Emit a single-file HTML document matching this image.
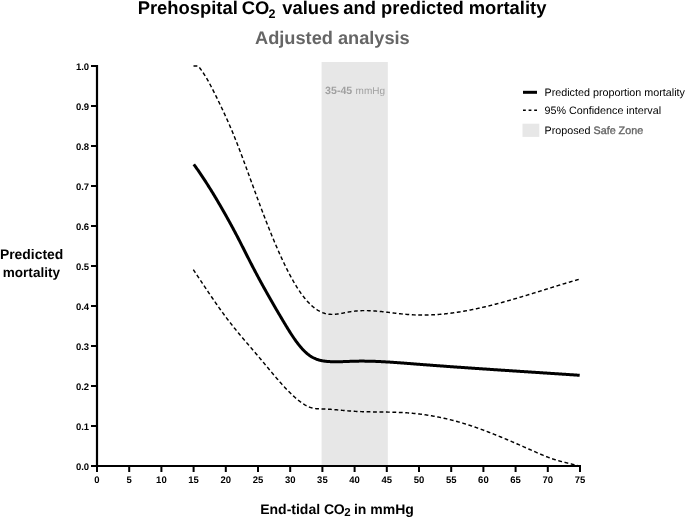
<!DOCTYPE html><html><head><meta charset="utf-8"><style>html,body{margin:0;padding:0;background:#fff;}svg{display:block;will-change:transform;}text{font-family:"Liberation Sans",sans-serif;text-rendering:geometricPrecision;}</style></head><body>
<svg width="685" height="518" viewBox="0 0 685 518">
<rect x="0" y="0" width="685" height="518" fill="#fff"/>
<g font-size="18.4" font-weight="bold" fill="#000"><text x="137.67" y="14">Prehospital</text><text x="241.65" y="14">CO</text><text x="268.4" y="18.3" font-size="12.5">2</text><text x="282.2" y="14">values</text><text x="343.26" y="14">and</text><text x="381.09" y="14">predicted</text><text x="468.69" y="14">mortality</text></g>
<text x="255.05" y="44.2" font-size="18.2" font-weight="bold" fill="#666">Adjusted analysis</text>
<rect x="321.6" y="62" width="66.2" height="404" fill="#e7e7e7"/>
<text x="325.1" y="94.4" font-size="10.6" font-weight="bold" fill="#a0a0a0">35-45</text><text x="355.6" y="94.4" font-size="10" fill="#a0a0a0">mmHg</text>
<path d="M193.50,66.00 L194.00,66.00 L194.50,66.00 L195.00,66.00 L195.50,66.00 L196.00,66.00 L196.50,66.00 L197.00,66.00 L197.50,66.00 L198.00,66.00 L198.50,66.41 L199.00,67.02 L199.50,67.64 L200.00,68.28 L200.50,68.94 L201.00,69.61 L201.50,70.31 L202.00,71.02 L202.50,71.74 L203.00,72.49 L203.50,73.25 L204.00,74.02 L204.50,74.81 L205.00,75.62 L205.50,76.43 L206.00,77.27 L206.50,78.11 L207.00,78.97 L207.50,79.84 L208.00,80.72 L208.50,81.61 L209.00,82.51 L209.50,83.43 L210.00,84.35 L210.50,85.28 L211.00,86.23 L211.50,87.18 L212.00,88.14 L212.50,89.11 L213.00,90.08 L213.50,91.07 L214.00,92.06 L214.50,93.06 L215.00,94.06 L215.50,95.07 L216.00,96.08 L216.50,97.10 L217.00,98.13 L217.50,99.16 L218.00,100.19 L218.50,101.23 L219.00,102.27 L219.50,103.31 L220.00,104.35 L220.50,105.40 L221.00,106.45 L221.50,107.50 L222.00,108.56 L222.50,109.62 L223.00,110.69 L223.50,111.76 L224.00,112.83 L224.50,113.91 L225.00,114.99 L225.50,116.09 L226.00,117.18 L226.50,118.28 L227.00,119.39 L227.50,120.51 L228.00,121.63 L228.50,122.76 L229.00,123.89 L229.50,125.04 L230.00,126.19 L230.50,127.35 L231.00,128.52 L231.50,129.69 L232.00,130.88 L232.50,132.07 L233.00,133.28 L233.50,134.49 L234.00,135.71 L234.50,136.95 L235.00,138.19 L235.50,139.43 L236.00,140.69 L236.50,141.95 L237.00,143.22 L237.50,144.50 L238.00,145.79 L238.50,147.08 L239.00,148.38 L239.50,149.68 L240.00,150.99 L240.50,152.31 L241.00,153.63 L241.50,154.95 L242.00,156.29 L242.50,157.62 L243.00,158.96 L243.50,160.30 L244.00,161.65 L244.50,163.00 L245.00,164.36 L245.50,165.71 L246.00,167.07 L246.50,168.44 L247.00,169.80 L247.50,171.17 L248.00,172.53 L248.50,173.90 L249.00,175.27 L249.50,176.64 L250.00,178.02 L250.50,179.39 L251.00,180.76 L251.50,182.13 L252.00,183.50 L252.50,184.87 L253.00,186.24 L253.50,187.61 L254.00,188.98 L254.50,190.35 L255.00,191.71 L255.50,193.07 L256.00,194.43 L256.50,195.78 L257.00,197.14 L257.50,198.49 L258.00,199.83 L258.50,201.18 L259.00,202.52 L259.50,203.86 L260.00,205.19 L260.50,206.52 L261.00,207.85 L261.50,209.17 L262.00,210.49 L262.50,211.81 L263.00,213.12 L263.50,214.43 L264.00,215.73 L264.50,217.03 L265.00,218.32 L265.50,219.61 L266.00,220.90 L266.50,222.18 L267.00,223.45 L267.50,224.73 L268.00,225.99 L268.50,227.25 L269.00,228.51 L269.50,229.76 L270.00,231.00 L270.50,232.24 L271.00,233.48 L271.50,234.70 L272.00,235.92 L272.50,237.14 L273.00,238.35 L273.50,239.55 L274.00,240.75 L274.50,241.94 L275.00,243.13 L275.50,244.31 L276.00,245.48 L276.50,246.64 L277.00,247.80 L277.50,248.95 L278.00,250.09 L278.50,251.23 L279.00,252.36 L279.50,253.48 L280.00,254.60 L280.50,255.70 L281.00,256.80 L281.50,257.90 L282.00,258.98 L282.50,260.05 L283.00,261.12 L283.50,262.18 L284.00,263.23 L284.50,264.27 L285.00,265.31 L285.50,266.33 L286.00,267.35 L286.50,268.36 L287.00,269.36 L287.50,270.35 L288.00,271.33 L288.50,272.30 L289.00,273.26 L289.50,274.22 L290.00,275.16 L290.50,276.09 L291.00,277.02 L291.50,277.93 L292.00,278.84 L292.50,279.73 L293.00,280.62 L293.50,281.49 L294.00,282.35 L294.50,283.21 L295.00,284.05 L295.50,284.88 L296.00,285.70 L296.50,286.51 L297.00,287.31 L297.50,288.10 L298.00,288.88 L298.50,289.65 L299.00,290.40 L299.50,291.14 L300.00,291.88 L300.50,292.60 L301.00,293.30 L301.50,294.00 L302.00,294.69 L302.50,295.36 L303.00,296.02 L303.50,296.67 L304.00,297.31 L304.50,297.93 L305.00,298.54 L305.50,299.15 L306.00,299.74 L306.50,300.31 L307.00,300.88 L307.50,301.44 L308.00,301.98 L308.50,302.51 L309.00,303.03 L309.50,303.54 L310.00,304.03 L310.50,304.52 L311.00,304.99 L311.50,305.45 L312.00,305.90 L312.50,306.33 L313.00,306.76 L313.50,307.17 L314.00,307.57 L314.50,307.96 L315.00,308.34 L315.50,308.71 L316.00,309.06 L316.50,309.41 L317.00,309.74 L317.50,310.06 L318.00,310.37 L318.50,310.66 L319.00,310.95 L319.50,311.22 L320.00,311.48 L320.50,311.73 L321.00,311.97 L321.50,312.20 L322.00,312.41 L322.50,312.62 L323.00,312.81 L323.50,312.99 L324.00,313.16 L324.50,313.31 L325.00,313.46 L325.50,313.59 L326.00,313.71 L326.50,313.82 L327.00,313.92 L327.50,314.01 L328.00,314.09 L328.50,314.16 L329.00,314.22 L329.50,314.27 L330.00,314.31 L330.50,314.34 L331.00,314.37 L331.50,314.38 L332.00,314.39 L332.50,314.39 L333.00,314.38 L333.50,314.36 L334.00,314.34 L334.50,314.31 L335.00,314.28 L335.50,314.24 L336.00,314.19 L336.50,314.14 L337.00,314.08 L337.50,314.02 L338.00,313.95 L338.50,313.88 L339.00,313.81 L339.50,313.73 L340.00,313.65 L340.50,313.56 L341.00,313.47 L341.50,313.39 L342.00,313.29 L342.50,313.20 L343.00,313.11 L343.50,313.01 L344.00,312.91 L344.50,312.81 L345.00,312.72 L345.50,312.62 L346.00,312.52 L346.50,312.42 L347.00,312.32 L347.50,312.23 L348.00,312.13 L348.50,312.04 L349.00,311.95 L349.50,311.86 L350.00,311.78 L350.50,311.69 L351.00,311.61 L351.50,311.54 L352.00,311.47 L352.50,311.40 L353.00,311.33 L353.50,311.27 L354.00,311.21 L354.50,311.15 L355.00,311.10 L355.50,311.04 L356.00,311.00 L356.50,310.95 L357.00,310.91 L357.50,310.87 L358.00,310.84 L358.50,310.80 L359.00,310.77 L359.50,310.74 L360.00,310.72 L360.50,310.70 L361.00,310.68 L361.50,310.66 L362.00,310.64 L362.50,310.63 L363.00,310.62 L363.50,310.61 L364.00,310.61 L364.50,310.61 L365.00,310.61 L365.50,310.61 L366.00,310.61 L366.50,310.62 L367.00,310.63 L367.50,310.64 L368.00,310.65 L368.50,310.66 L369.00,310.68 L369.50,310.70 L370.00,310.72 L370.50,310.74 L371.00,310.76 L371.50,310.79 L372.00,310.81 L372.50,310.84 L373.00,310.87 L373.50,310.90 L374.00,310.94 L374.50,310.97 L375.00,311.01 L375.50,311.05 L376.00,311.09 L376.50,311.13 L377.00,311.17 L377.50,311.21 L378.00,311.25 L378.50,311.30 L379.00,311.34 L379.50,311.39 L380.00,311.44 L380.50,311.49 L381.00,311.54 L381.50,311.59 L382.00,311.64 L382.50,311.70 L383.00,311.75 L383.50,311.80 L384.00,311.86 L384.50,311.91 L385.00,311.97 L385.50,312.03 L386.00,312.09 L386.50,312.14 L387.00,312.20 L387.50,312.26 L388.00,312.32 L388.50,312.38 L389.00,312.44 L389.50,312.50 L390.00,312.56 L390.50,312.62 L391.00,312.68 L391.50,312.74 L392.00,312.80 L392.50,312.86 L393.00,312.92 L393.50,312.98 L394.00,313.04 L394.50,313.10 L395.00,313.16 L395.50,313.22 L396.00,313.28 L396.50,313.34 L397.00,313.40 L397.50,313.46 L398.00,313.51 L398.50,313.57 L399.00,313.63 L399.50,313.68 L400.00,313.74 L400.50,313.79 L401.00,313.85 L401.50,313.90 L402.00,313.95 L402.50,314.01 L403.00,314.06 L403.50,314.11 L404.00,314.16 L404.50,314.20 L405.00,314.25 L405.50,314.30 L406.00,314.34 L406.50,314.38 L407.00,314.43 L407.50,314.47 L408.00,314.51 L408.50,314.55 L409.00,314.58 L409.50,314.62 L410.00,314.65 L410.50,314.69 L411.00,314.72 L411.50,314.75 L412.00,314.78 L412.50,314.80 L413.00,314.83 L413.50,314.85 L414.00,314.88 L414.50,314.90 L415.00,314.92 L415.50,314.94 L416.00,314.96 L416.50,314.97 L417.00,314.99 L417.50,315.00 L418.00,315.01 L418.50,315.02 L419.00,315.03 L419.50,315.04 L420.00,315.05 L420.50,315.06 L421.00,315.06 L421.50,315.06 L422.00,315.06 L422.50,315.07 L423.00,315.06 L423.50,315.06 L424.00,315.06 L424.50,315.06 L425.00,315.05 L425.50,315.04 L426.00,315.03 L426.50,315.03 L427.00,315.01 L427.50,315.00 L428.00,314.99 L428.50,314.98 L429.00,314.96 L429.50,314.94 L430.00,314.93 L430.50,314.91 L431.00,314.89 L431.50,314.86 L432.00,314.84 L432.50,314.82 L433.00,314.79 L433.50,314.77 L434.00,314.74 L434.50,314.71 L435.00,314.68 L435.50,314.65 L436.00,314.62 L436.50,314.59 L437.00,314.55 L437.50,314.52 L438.00,314.48 L438.50,314.44 L439.00,314.40 L439.50,314.36 L440.00,314.32 L440.50,314.28 L441.00,314.24 L441.50,314.19 L442.00,314.15 L442.50,314.10 L443.00,314.05 L443.50,314.01 L444.00,313.96 L444.50,313.91 L445.00,313.85 L445.50,313.80 L446.00,313.75 L446.50,313.69 L447.00,313.64 L447.50,313.58 L448.00,313.52 L448.50,313.46 L449.00,313.41 L449.50,313.34 L450.00,313.28 L450.50,313.22 L451.00,313.16 L451.50,313.09 L452.00,313.03 L452.50,312.96 L453.00,312.89 L453.50,312.82 L454.00,312.75 L454.50,312.68 L455.00,312.61 L455.50,312.54 L456.00,312.47 L456.50,312.39 L457.00,312.32 L457.50,312.24 L458.00,312.16 L458.50,312.09 L459.00,312.01 L459.50,311.93 L460.00,311.85 L460.50,311.77 L461.00,311.68 L461.50,311.60 L462.00,311.52 L462.50,311.43 L463.00,311.35 L463.50,311.26 L464.00,311.17 L464.50,311.08 L465.00,311.00 L465.50,310.91 L466.00,310.82 L466.50,310.72 L467.00,310.63 L467.50,310.54 L468.00,310.44 L468.50,310.35 L469.00,310.25 L469.50,310.16 L470.00,310.06 L470.50,309.96 L471.00,309.86 L471.50,309.76 L472.00,309.66 L472.50,309.56 L473.00,309.46 L473.50,309.36 L474.00,309.26 L474.50,309.15 L475.00,309.05 L475.50,308.94 L476.00,308.84 L476.50,308.73 L477.00,308.62 L477.50,308.51 L478.00,308.40 L478.50,308.29 L479.00,308.18 L479.50,308.07 L480.00,307.96 L480.50,307.85 L481.00,307.74 L481.50,307.62 L482.00,307.51 L482.50,307.39 L483.00,307.28 L483.50,307.16 L484.00,307.04 L484.50,306.93 L485.00,306.81 L485.50,306.69 L486.00,306.57 L486.50,306.45 L487.00,306.33 L487.50,306.21 L488.00,306.08 L488.50,305.96 L489.00,305.84 L489.50,305.72 L490.00,305.59 L490.50,305.47 L491.00,305.34 L491.50,305.22 L492.00,305.09 L492.50,304.96 L493.00,304.83 L493.50,304.71 L494.00,304.58 L494.50,304.45 L495.00,304.32 L495.50,304.19 L496.00,304.06 L496.50,303.93 L497.00,303.80 L497.50,303.66 L498.00,303.53 L498.50,303.40 L499.00,303.26 L499.50,303.13 L500.00,302.99 L500.50,302.86 L501.00,302.72 L501.50,302.59 L502.00,302.45 L502.50,302.31 L503.00,302.18 L503.50,302.04 L504.00,301.90 L504.50,301.76 L505.00,301.62 L505.50,301.48 L506.00,301.34 L506.50,301.20 L507.00,301.06 L507.50,300.92 L508.00,300.78 L508.50,300.64 L509.00,300.50 L509.50,300.35 L510.00,300.21 L510.50,300.07 L511.00,299.92 L511.50,299.78 L512.00,299.64 L512.50,299.49 L513.00,299.35 L513.50,299.20 L514.00,299.06 L514.50,298.91 L515.00,298.76 L515.50,298.62 L516.00,298.47 L516.50,298.32 L517.00,298.17 L517.50,298.03 L518.00,297.88 L518.50,297.73 L519.00,297.58 L519.50,297.43 L520.00,297.28 L520.50,297.13 L521.00,296.98 L521.50,296.84 L522.00,296.68 L522.50,296.53 L523.00,296.38 L523.50,296.23 L524.00,296.08 L524.50,295.93 L525.00,295.78 L525.50,295.63 L526.00,295.48 L526.50,295.32 L527.00,295.17 L527.50,295.02 L528.00,294.87 L528.50,294.71 L529.00,294.56 L529.50,294.41 L530.00,294.25 L530.50,294.10 L531.00,293.95 L531.50,293.79 L532.00,293.64 L532.50,293.49 L533.00,293.33 L533.50,293.18 L534.00,293.02 L534.50,292.87 L535.00,292.71 L535.50,292.56 L536.00,292.40 L536.50,292.25 L537.00,292.09 L537.50,291.94 L538.00,291.78 L538.50,291.63 L539.00,291.47 L539.50,291.32 L540.00,291.16 L540.50,291.01 L541.00,290.85 L541.50,290.70 L542.00,290.54 L542.50,290.39 L543.00,290.23 L543.50,290.07 L544.00,289.92 L544.50,289.76 L545.00,289.61 L545.50,289.45 L546.00,289.30 L546.50,289.14 L547.00,288.99 L547.50,288.83 L548.00,288.67 L548.50,288.52 L549.00,288.36 L549.50,288.21 L550.00,288.05 L550.50,287.90 L551.00,287.74 L551.50,287.59 L552.00,287.43 L552.50,287.28 L553.00,287.12 L553.50,286.97 L554.00,286.81 L554.50,286.66 L555.00,286.50 L555.50,286.35 L556.00,286.20 L556.50,286.04 L557.00,285.89 L557.50,285.73 L558.00,285.58 L558.50,285.43 L559.00,285.27 L559.50,285.12 L560.00,284.97 L560.50,284.81 L561.00,284.66 L561.50,284.51 L562.00,284.36 L562.50,284.20 L563.00,284.05 L563.50,283.90 L564.00,283.75 L564.50,283.60 L565.00,283.44 L565.50,283.29 L566.00,283.14 L566.50,282.99 L567.00,282.84 L567.50,282.69 L568.00,282.54 L568.50,282.39 L569.00,282.24 L569.50,282.09 L570.00,281.94 L570.50,281.80 L571.00,281.65 L571.50,281.50 L572.00,281.35 L572.50,281.20 L573.00,281.06 L573.50,280.91 L574.00,280.76 L574.50,280.62 L575.00,280.47 L575.50,280.32 L576.00,280.18 L576.50,280.03 L577.00,279.89 L577.50,279.74 L578.00,279.60 L578.50,279.46 L579.00,279.31 L579.50,279.17" fill="none" stroke="#000" stroke-width="1.45" stroke-dasharray="3.85 2.6"/>
<path d="M193.30,269.53 L193.80,270.28 L194.30,271.03 L194.80,271.78 L195.30,272.54 L195.80,273.29 L196.30,274.04 L196.80,274.80 L197.30,275.55 L197.80,276.30 L198.30,277.06 L198.80,277.81 L199.30,278.57 L199.80,279.32 L200.30,280.07 L200.80,280.83 L201.30,281.58 L201.80,282.33 L202.30,283.09 L202.80,283.84 L203.30,284.59 L203.80,285.34 L204.30,286.09 L204.80,286.84 L205.30,287.59 L205.80,288.34 L206.30,289.09 L206.80,289.84 L207.30,290.58 L207.80,291.33 L208.30,292.07 L208.80,292.81 L209.30,293.55 L209.80,294.30 L210.30,295.03 L210.80,295.77 L211.30,296.51 L211.80,297.24 L212.30,297.98 L212.80,298.71 L213.30,299.44 L213.80,300.17 L214.30,300.89 L214.80,301.62 L215.30,302.34 L215.80,303.06 L216.30,303.78 L216.80,304.50 L217.30,305.22 L217.80,305.93 L218.30,306.64 L218.80,307.35 L219.30,308.05 L219.80,308.76 L220.30,309.46 L220.80,310.16 L221.30,310.85 L221.80,311.55 L222.30,312.24 L222.80,312.93 L223.30,313.61 L223.80,314.29 L224.30,314.97 L224.80,315.65 L225.30,316.32 L225.80,316.99 L226.30,317.66 L226.80,318.32 L227.30,318.98 L227.80,319.64 L228.30,320.30 L228.80,320.95 L229.30,321.60 L229.80,322.24 L230.30,322.88 L230.80,323.52 L231.30,324.16 L231.80,324.79 L232.30,325.42 L232.80,326.05 L233.30,326.68 L233.80,327.30 L234.30,327.92 L234.80,328.54 L235.30,329.16 L235.80,329.77 L236.30,330.39 L236.80,331.00 L237.30,331.61 L237.80,332.21 L238.30,332.82 L238.80,333.42 L239.30,334.02 L239.80,334.62 L240.30,335.22 L240.80,335.82 L241.30,336.42 L241.80,337.01 L242.30,337.60 L242.80,338.20 L243.30,338.79 L243.80,339.38 L244.30,339.97 L244.80,340.55 L245.30,341.14 L245.80,341.73 L246.30,342.31 L246.80,342.90 L247.30,343.48 L247.80,344.07 L248.30,344.65 L248.80,345.24 L249.30,345.82 L249.80,346.40 L250.30,346.98 L250.80,347.57 L251.30,348.15 L251.80,348.73 L252.30,349.32 L252.80,349.90 L253.30,350.48 L253.80,351.07 L254.30,351.65 L254.80,352.24 L255.30,352.82 L255.80,353.41 L256.30,353.99 L256.80,354.58 L257.30,355.17 L257.80,355.76 L258.30,356.35 L258.80,356.94 L259.30,357.53 L259.80,358.13 L260.30,358.72 L260.80,359.32 L261.30,359.91 L261.80,360.51 L262.30,361.11 L262.80,361.71 L263.30,362.31 L263.80,362.91 L264.30,363.51 L264.80,364.12 L265.30,364.72 L265.80,365.32 L266.30,365.92 L266.80,366.53 L267.30,367.13 L267.80,367.73 L268.30,368.33 L268.80,368.94 L269.30,369.54 L269.80,370.14 L270.30,370.74 L270.80,371.34 L271.30,371.94 L271.80,372.53 L272.30,373.13 L272.80,373.72 L273.30,374.32 L273.80,374.91 L274.30,375.50 L274.80,376.09 L275.30,376.68 L275.80,377.26 L276.30,377.85 L276.80,378.43 L277.30,379.01 L277.80,379.59 L278.30,380.16 L278.80,380.74 L279.30,381.31 L279.80,381.88 L280.30,382.44 L280.80,383.01 L281.30,383.57 L281.80,384.12 L282.30,384.68 L282.80,385.23 L283.30,385.77 L283.80,386.32 L284.30,386.86 L284.80,387.40 L285.30,387.93 L285.80,388.46 L286.30,388.99 L286.80,389.51 L287.30,390.03 L287.80,390.54 L288.30,391.05 L288.80,391.56 L289.30,392.06 L289.80,392.55 L290.30,393.05 L290.80,393.53 L291.30,394.01 L291.80,394.49 L292.30,394.96 L292.80,395.43 L293.30,395.89 L293.80,396.35 L294.30,396.80 L294.80,397.25 L295.30,397.69 L295.80,398.12 L296.30,398.55 L296.80,398.97 L297.30,399.39 L297.80,399.80 L298.30,400.20 L298.80,400.60 L299.30,400.99 L299.80,401.38 L300.30,401.76 L300.80,402.13 L301.30,402.49 L301.80,402.85 L302.30,403.20 L302.80,403.54 L303.30,403.87 L303.80,404.19 L304.30,404.50 L304.80,404.81 L305.30,405.10 L305.80,405.38 L306.30,405.66 L306.80,405.92 L307.30,406.17 L307.80,406.41 L308.30,406.64 L308.80,406.86 L309.30,407.06 L309.80,407.26 L310.30,407.43 L310.80,407.60 L311.30,407.75 L311.80,407.89 L312.30,408.02 L312.80,408.14 L313.30,408.24 L313.80,408.34 L314.30,408.42 L314.80,408.50 L315.30,408.57 L315.80,408.62 L316.30,408.68 L316.80,408.72 L317.30,408.76 L317.80,408.79 L318.30,408.82 L318.80,408.84 L319.30,408.86 L319.80,408.88 L320.30,408.89 L320.80,408.91 L321.30,408.92 L321.80,408.93 L322.30,408.94 L322.80,408.95 L323.30,408.96 L323.80,408.97 L324.30,408.99 L324.80,409.00 L325.30,409.02 L325.80,409.04 L326.30,409.07 L326.80,409.09 L327.30,409.12 L327.80,409.14 L328.30,409.17 L328.80,409.20 L329.30,409.23 L329.80,409.27 L330.30,409.30 L330.80,409.34 L331.30,409.37 L331.80,409.41 L332.30,409.45 L332.80,409.49 L333.30,409.53 L333.80,409.57 L334.30,409.62 L334.80,409.66 L335.30,409.70 L335.80,409.75 L336.30,409.79 L336.80,409.84 L337.30,409.88 L337.80,409.93 L338.30,409.98 L338.80,410.02 L339.30,410.07 L339.80,410.12 L340.30,410.17 L340.80,410.21 L341.30,410.26 L341.80,410.31 L342.30,410.36 L342.80,410.40 L343.30,410.45 L343.80,410.50 L344.30,410.54 L344.80,410.59 L345.30,410.63 L345.80,410.68 L346.30,410.72 L346.80,410.77 L347.30,410.81 L347.80,410.85 L348.30,410.89 L348.80,410.93 L349.30,410.97 L349.80,411.01 L350.30,411.04 L350.80,411.08 L351.30,411.11 L351.80,411.15 L352.30,411.18 L352.80,411.21 L353.30,411.24 L353.80,411.27 L354.30,411.30 L354.80,411.33 L355.30,411.36 L355.80,411.38 L356.30,411.41 L356.80,411.43 L357.30,411.46 L357.80,411.48 L358.30,411.50 L358.80,411.52 L359.30,411.55 L359.80,411.57 L360.30,411.59 L360.80,411.60 L361.30,411.62 L361.80,411.64 L362.30,411.66 L362.80,411.67 L363.30,411.69 L363.80,411.70 L364.30,411.72 L364.80,411.73 L365.30,411.74 L365.80,411.76 L366.30,411.77 L366.80,411.78 L367.30,411.79 L367.80,411.80 L368.30,411.81 L368.80,411.83 L369.30,411.84 L369.80,411.84 L370.30,411.85 L370.80,411.86 L371.30,411.87 L371.80,411.88 L372.30,411.89 L372.80,411.90 L373.30,411.90 L373.80,411.91 L374.30,411.92 L374.80,411.92 L375.30,411.93 L375.80,411.94 L376.30,411.94 L376.80,411.95 L377.30,411.96 L377.80,411.96 L378.30,411.97 L378.80,411.98 L379.30,411.98 L379.80,411.99 L380.30,411.99 L380.80,412.00 L381.30,412.01 L381.80,412.01 L382.30,412.02 L382.80,412.03 L383.30,412.03 L383.80,412.04 L384.30,412.05 L384.80,412.05 L385.30,412.06 L385.80,412.07 L386.30,412.08 L386.80,412.09 L387.30,412.09 L387.80,412.10 L388.30,412.11 L388.80,412.12 L389.30,412.13 L389.80,412.14 L390.30,412.15 L390.80,412.16 L391.30,412.17 L391.80,412.19 L392.30,412.20 L392.80,412.21 L393.30,412.22 L393.80,412.24 L394.30,412.25 L394.80,412.27 L395.30,412.28 L395.80,412.30 L396.30,412.32 L396.80,412.33 L397.30,412.35 L397.80,412.37 L398.30,412.39 L398.80,412.41 L399.30,412.43 L399.80,412.45 L400.30,412.47 L400.80,412.49 L401.30,412.52 L401.80,412.54 L402.30,412.57 L402.80,412.59 L403.30,412.62 L403.80,412.65 L404.30,412.68 L404.80,412.71 L405.30,412.74 L405.80,412.77 L406.30,412.80 L406.80,412.83 L407.30,412.87 L407.80,412.90 L408.30,412.94 L408.80,412.98 L409.30,413.02 L409.80,413.06 L410.30,413.10 L410.80,413.14 L411.30,413.18 L411.80,413.23 L412.30,413.27 L412.80,413.32 L413.30,413.36 L413.80,413.41 L414.30,413.46 L414.80,413.51 L415.30,413.56 L415.80,413.61 L416.30,413.67 L416.80,413.72 L417.30,413.78 L417.80,413.83 L418.30,413.89 L418.80,413.95 L419.30,414.01 L419.80,414.07 L420.30,414.13 L420.80,414.19 L421.30,414.25 L421.80,414.32 L422.30,414.38 L422.80,414.45 L423.30,414.52 L423.80,414.59 L424.30,414.66 L424.80,414.73 L425.30,414.80 L425.80,414.87 L426.30,414.95 L426.80,415.02 L427.30,415.10 L427.80,415.17 L428.30,415.25 L428.80,415.33 L429.30,415.41 L429.80,415.49 L430.30,415.58 L430.80,415.66 L431.30,415.74 L431.80,415.83 L432.30,415.92 L432.80,416.00 L433.30,416.09 L433.80,416.18 L434.30,416.27 L434.80,416.36 L435.30,416.46 L435.80,416.55 L436.30,416.64 L436.80,416.74 L437.30,416.84 L437.80,416.94 L438.30,417.03 L438.80,417.13 L439.30,417.24 L439.80,417.34 L440.30,417.44 L440.80,417.55 L441.30,417.65 L441.80,417.76 L442.30,417.86 L442.80,417.97 L443.30,418.08 L443.80,418.19 L444.30,418.30 L444.80,418.42 L445.30,418.53 L445.80,418.65 L446.30,418.76 L446.80,418.88 L447.30,419.00 L447.80,419.12 L448.30,419.24 L448.80,419.36 L449.30,419.48 L449.80,419.60 L450.30,419.73 L450.80,419.85 L451.30,419.98 L451.80,420.10 L452.30,420.23 L452.80,420.36 L453.30,420.49 L453.80,420.62 L454.30,420.76 L454.80,420.89 L455.30,421.03 L455.80,421.16 L456.30,421.30 L456.80,421.44 L457.30,421.57 L457.80,421.71 L458.30,421.86 L458.80,422.00 L459.30,422.14 L459.80,422.29 L460.30,422.43 L460.80,422.58 L461.30,422.72 L461.80,422.87 L462.30,423.02 L462.80,423.17 L463.30,423.32 L463.80,423.48 L464.30,423.63 L464.80,423.78 L465.30,423.94 L465.80,424.09 L466.30,424.25 L466.80,424.41 L467.30,424.57 L467.80,424.73 L468.30,424.89 L468.80,425.05 L469.30,425.21 L469.80,425.38 L470.30,425.54 L470.80,425.71 L471.30,425.87 L471.80,426.04 L472.30,426.21 L472.80,426.38 L473.30,426.55 L473.80,426.72 L474.30,426.89 L474.80,427.06 L475.30,427.24 L475.80,427.41 L476.30,427.58 L476.80,427.76 L477.30,427.94 L477.80,428.11 L478.30,428.29 L478.80,428.47 L479.30,428.65 L479.80,428.83 L480.30,429.01 L480.80,429.19 L481.30,429.38 L481.80,429.56 L482.30,429.74 L482.80,429.93 L483.30,430.11 L483.80,430.30 L484.30,430.49 L484.80,430.67 L485.30,430.86 L485.80,431.05 L486.30,431.24 L486.80,431.43 L487.30,431.62 L487.80,431.81 L488.30,432.01 L488.80,432.20 L489.30,432.39 L489.80,432.59 L490.30,432.78 L490.80,432.98 L491.30,433.17 L491.80,433.37 L492.30,433.57 L492.80,433.76 L493.30,433.96 L493.80,434.16 L494.30,434.36 L494.80,434.56 L495.30,434.76 L495.80,434.96 L496.30,435.16 L496.80,435.36 L497.30,435.57 L497.80,435.77 L498.30,435.97 L498.80,436.18 L499.30,436.38 L499.80,436.59 L500.30,436.79 L500.80,437.00 L501.30,437.21 L501.80,437.41 L502.30,437.62 L502.80,437.83 L503.30,438.04 L503.80,438.24 L504.30,438.45 L504.80,438.66 L505.30,438.87 L505.80,439.08 L506.30,439.29 L506.80,439.50 L507.30,439.72 L507.80,439.93 L508.30,440.14 L508.80,440.35 L509.30,440.56 L509.80,440.78 L510.30,440.99 L510.80,441.20 L511.30,441.42 L511.80,441.63 L512.30,441.85 L512.80,442.06 L513.30,442.28 L513.80,442.49 L514.30,442.71 L514.80,442.93 L515.30,443.14 L515.80,443.36 L516.30,443.58 L516.80,443.79 L517.30,444.01 L517.80,444.23 L518.30,444.45 L518.80,444.66 L519.30,444.88 L519.80,445.10 L520.30,445.32 L520.80,445.54 L521.30,445.76 L521.80,445.98 L522.30,446.20 L522.80,446.41 L523.30,446.63 L523.80,446.85 L524.30,447.07 L524.80,447.29 L525.30,447.51 L525.80,447.73 L526.30,447.95 L526.80,448.18 L527.30,448.40 L527.80,448.62 L528.30,448.84 L528.80,449.06 L529.30,449.28 L529.80,449.50 L530.30,449.72 L530.80,449.94 L531.30,450.16 L531.80,450.38 L532.30,450.60 L532.80,450.83 L533.30,451.05 L533.80,451.27 L534.30,451.49 L534.80,451.71 L535.30,451.93 L535.80,452.15 L536.30,452.37 L536.80,452.58 L537.30,452.80 L537.80,453.02 L538.30,453.24 L538.80,453.45 L539.30,453.67 L539.80,453.88 L540.30,454.09 L540.80,454.31 L541.30,454.52 L541.80,454.73 L542.30,454.94 L542.80,455.15 L543.30,455.35 L543.80,455.56 L544.30,455.76 L544.80,455.96 L545.30,456.16 L545.80,456.36 L546.30,456.56 L546.80,456.76 L547.30,456.95 L547.80,457.14 L548.30,457.33 L548.80,457.52 L549.30,457.71 L549.80,457.89 L550.30,458.08 L550.80,458.26 L551.30,458.44 L551.80,458.61 L552.30,458.79 L552.80,458.96 L553.30,459.13 L553.80,459.29 L554.30,459.45 L554.80,459.62 L555.30,459.77 L555.80,459.93 L556.30,460.08 L556.80,460.23 L557.30,460.38 L557.80,460.53 L558.30,460.67 L558.80,460.81 L559.30,460.95 L559.80,461.08 L560.30,461.22 L560.80,461.35 L561.30,461.48 L561.80,461.61 L562.30,461.74 L562.80,461.87 L563.30,461.99 L563.80,462.12 L564.30,462.24 L564.80,462.37 L565.30,462.49 L565.80,462.61 L566.30,462.73 L566.80,462.85 L567.30,462.98 L567.80,463.10 L568.30,463.22 L568.80,463.34 L569.30,463.46 L569.80,463.58 L570.30,463.71 L570.80,463.83 L571.30,463.95 L571.80,464.08 L572.30,464.20 L572.80,464.33 L573.30,464.46 L573.80,464.59 L574.30,464.72 L574.80,464.85 L575.30,464.98 L575.80,465.12 L576.30,465.26 L576.80,465.40 L577.30,465.54 L577.80,465.68 L578.30,465.83 L578.50,465.89" fill="none" stroke="#000" stroke-width="1.45" stroke-dasharray="3.85 2.6"/>
<path d="M193.80,164.37 L194.30,165.05 L194.80,165.75 L195.30,166.44 L195.80,167.14 L196.30,167.84 L196.80,168.55 L197.30,169.26 L197.80,169.97 L198.30,170.69 L198.80,171.42 L199.30,172.14 L199.80,172.87 L200.30,173.60 L200.80,174.34 L201.30,175.08 L201.80,175.83 L202.30,176.58 L202.80,177.33 L203.30,178.08 L203.80,178.84 L204.30,179.60 L204.80,180.37 L205.30,181.14 L205.80,181.91 L206.30,182.69 L206.80,183.47 L207.30,184.25 L207.80,185.04 L208.30,185.83 L208.80,186.62 L209.30,187.42 L209.80,188.22 L210.30,189.02 L210.80,189.82 L211.30,190.63 L211.80,191.45 L212.30,192.26 L212.80,193.08 L213.30,193.90 L213.80,194.72 L214.30,195.55 L214.80,196.38 L215.30,197.21 L215.80,198.05 L216.30,198.89 L216.80,199.73 L217.30,200.57 L217.80,201.42 L218.30,202.27 L218.80,203.13 L219.30,203.98 L219.80,204.84 L220.30,205.70 L220.80,206.56 L221.30,207.43 L221.80,208.30 L222.30,209.17 L222.80,210.04 L223.30,210.92 L223.80,211.80 L224.30,212.68 L224.80,213.56 L225.30,214.45 L225.80,215.34 L226.30,216.23 L226.80,217.12 L227.30,218.02 L227.80,218.92 L228.30,219.82 L228.80,220.72 L229.30,221.63 L229.80,222.54 L230.30,223.45 L230.80,224.37 L231.30,225.28 L231.80,226.21 L232.30,227.13 L232.80,228.06 L233.30,228.99 L233.80,229.92 L234.30,230.86 L234.80,231.80 L235.30,232.75 L235.80,233.69 L236.30,234.65 L236.80,235.60 L237.30,236.56 L237.80,237.52 L238.30,238.49 L238.80,239.46 L239.30,240.43 L239.80,241.40 L240.30,242.38 L240.80,243.36 L241.30,244.35 L241.80,245.33 L242.30,246.32 L242.80,247.30 L243.30,248.29 L243.80,249.28 L244.30,250.27 L244.80,251.27 L245.30,252.26 L245.80,253.25 L246.30,254.24 L246.80,255.23 L247.30,256.22 L247.80,257.20 L248.30,258.19 L248.80,259.18 L249.30,260.16 L249.80,261.14 L250.30,262.12 L250.80,263.09 L251.30,264.06 L251.80,265.03 L252.30,266.00 L252.80,266.96 L253.30,267.92 L253.80,268.87 L254.30,269.82 L254.80,270.77 L255.30,271.72 L255.80,272.66 L256.30,273.61 L256.80,274.54 L257.30,275.48 L257.80,276.41 L258.30,277.34 L258.80,278.27 L259.30,279.19 L259.80,280.12 L260.30,281.04 L260.80,281.95 L261.30,282.87 L261.80,283.78 L262.30,284.69 L262.80,285.60 L263.30,286.50 L263.80,287.40 L264.30,288.31 L264.80,289.20 L265.30,290.10 L265.80,291.00 L266.30,291.89 L266.80,292.78 L267.30,293.67 L267.80,294.56 L268.30,295.44 L268.80,296.32 L269.30,297.21 L269.80,298.09 L270.30,298.97 L270.80,299.84 L271.30,300.72 L271.80,301.59 L272.30,302.46 L272.80,303.33 L273.30,304.20 L273.80,305.07 L274.30,305.94 L274.80,306.80 L275.30,307.66 L275.80,308.53 L276.30,309.39 L276.80,310.24 L277.30,311.10 L277.80,311.95 L278.30,312.81 L278.80,313.66 L279.30,314.51 L279.80,315.36 L280.30,316.21 L280.80,317.05 L281.30,317.89 L281.80,318.74 L282.30,319.58 L282.80,320.42 L283.30,321.25 L283.80,322.09 L284.30,322.92 L284.80,323.75 L285.30,324.58 L285.80,325.41 L286.30,326.24 L286.80,327.06 L287.30,327.88 L287.80,328.69 L288.30,329.50 L288.80,330.31 L289.30,331.11 L289.80,331.90 L290.30,332.69 L290.80,333.47 L291.30,334.24 L291.80,335.01 L292.30,335.77 L292.80,336.52 L293.30,337.27 L293.80,338.00 L294.30,338.73 L294.80,339.45 L295.30,340.15 L295.80,340.85 L296.30,341.53 L296.80,342.21 L297.30,342.88 L297.80,343.53 L298.30,344.17 L298.80,344.81 L299.30,345.43 L299.80,346.04 L300.30,346.64 L300.80,347.23 L301.30,347.80 L301.80,348.37 L302.30,348.92 L302.80,349.46 L303.30,349.99 L303.80,350.50 L304.30,351.00 L304.80,351.49 L305.30,351.97 L305.80,352.43 L306.30,352.88 L306.80,353.32 L307.30,353.75 L307.80,354.16 L308.30,354.55 L308.80,354.93 L309.30,355.30 L309.80,355.66 L310.30,356.00 L310.80,356.32 L311.30,356.64 L311.80,356.94 L312.30,357.22 L312.80,357.50 L313.30,357.76 L313.80,358.01 L314.30,358.25 L314.80,358.48 L315.30,358.70 L315.80,358.91 L316.30,359.11 L316.80,359.29 L317.30,359.47 L317.80,359.64 L318.30,359.80 L318.80,359.95 L319.30,360.09 L319.80,360.22 L320.30,360.35 L320.80,360.47 L321.30,360.58 L321.80,360.68 L322.30,360.78 L322.80,360.87 L323.30,360.95 L323.80,361.03 L324.30,361.10 L324.80,361.17 L325.30,361.23 L325.80,361.29 L326.30,361.34 L326.80,361.39 L327.30,361.43 L327.80,361.47 L328.30,361.51 L328.80,361.54 L329.30,361.58 L329.80,361.60 L330.30,361.63 L330.80,361.65 L331.30,361.68 L331.80,361.69 L332.30,361.71 L332.80,361.72 L333.30,361.74 L333.80,361.75 L334.30,361.75 L334.80,361.76 L335.30,361.76 L335.80,361.76 L336.30,361.76 L336.80,361.76 L337.30,361.76 L337.80,361.75 L338.30,361.74 L338.80,361.74 L339.30,361.73 L339.80,361.72 L340.30,361.70 L340.80,361.69 L341.30,361.68 L341.80,361.66 L342.30,361.65 L342.80,361.63 L343.30,361.61 L343.80,361.59 L344.30,361.58 L344.80,361.56 L345.30,361.54 L345.80,361.52 L346.30,361.50 L346.80,361.48 L347.30,361.46 L347.80,361.44 L348.30,361.42 L348.80,361.40 L349.30,361.38 L349.80,361.36 L350.30,361.34 L350.80,361.32 L351.30,361.30 L351.80,361.29 L352.30,361.27 L352.80,361.25 L353.30,361.24 L353.80,361.22 L354.30,361.21 L354.80,361.20 L355.30,361.19 L355.80,361.17 L356.30,361.16 L356.80,361.16 L357.30,361.15 L357.80,361.14 L358.30,361.13 L358.80,361.13 L359.30,361.12 L359.80,361.12 L360.30,361.12 L360.80,361.12 L361.30,361.11 L361.80,361.11 L362.30,361.11 L362.80,361.11 L363.30,361.12 L363.80,361.12 L364.30,361.12 L364.80,361.13 L365.30,361.13 L365.80,361.14 L366.30,361.14 L366.80,361.15 L367.30,361.16 L367.80,361.17 L368.30,361.18 L368.80,361.19 L369.30,361.20 L369.80,361.21 L370.30,361.22 L370.80,361.23 L371.30,361.25 L371.80,361.26 L372.30,361.27 L372.80,361.29 L373.30,361.31 L373.80,361.32 L374.30,361.34 L374.80,361.36 L375.30,361.37 L375.80,361.39 L376.30,361.41 L376.80,361.43 L377.30,361.45 L377.80,361.47 L378.30,361.49 L378.80,361.52 L379.30,361.54 L379.80,361.56 L380.30,361.59 L380.80,361.61 L381.30,361.63 L381.80,361.66 L382.30,361.69 L382.80,361.71 L383.30,361.74 L383.80,361.76 L384.30,361.79 L384.80,361.82 L385.30,361.85 L385.80,361.88 L386.30,361.91 L386.80,361.94 L387.30,361.96 L387.80,362.00 L388.30,362.03 L388.80,362.06 L389.30,362.09 L389.80,362.12 L390.30,362.15 L390.80,362.18 L391.30,362.22 L391.80,362.25 L392.30,362.28 L392.80,362.32 L393.30,362.35 L393.80,362.38 L394.30,362.42 L394.80,362.45 L395.30,362.49 L395.80,362.52 L396.30,362.56 L396.80,362.60 L397.30,362.63 L397.80,362.67 L398.30,362.70 L398.80,362.74 L399.30,362.78 L399.80,362.81 L400.30,362.85 L400.80,362.89 L401.30,362.93 L401.80,362.96 L402.30,363.00 L402.80,363.04 L403.30,363.08 L403.80,363.12 L404.30,363.16 L404.80,363.19 L405.30,363.23 L405.80,363.27 L406.30,363.31 L406.80,363.35 L407.30,363.39 L407.80,363.43 L408.30,363.47 L408.80,363.51 L409.30,363.54 L409.80,363.58 L410.30,363.62 L410.80,363.66 L411.30,363.70 L411.80,363.74 L412.30,363.78 L412.80,363.82 L413.30,363.86 L413.80,363.90 L414.30,363.94 L414.80,363.98 L415.30,364.01 L415.80,364.05 L416.30,364.09 L416.80,364.13 L417.30,364.17 L417.80,364.21 L418.30,364.25 L418.80,364.29 L419.30,364.33 L419.80,364.36 L420.30,364.40 L420.80,364.44 L421.30,364.48 L421.80,364.52 L422.30,364.56 L422.80,364.59 L423.30,364.63 L423.80,364.67 L424.30,364.71 L424.80,364.75 L425.30,364.78 L425.80,364.82 L426.30,364.86 L426.80,364.90 L427.30,364.94 L427.80,364.97 L428.30,365.01 L428.80,365.05 L429.30,365.09 L429.80,365.12 L430.30,365.16 L430.80,365.20 L431.30,365.24 L431.80,365.27 L432.30,365.31 L432.80,365.35 L433.30,365.39 L433.80,365.42 L434.30,365.46 L434.80,365.50 L435.30,365.53 L435.80,365.57 L436.30,365.61 L436.80,365.65 L437.30,365.68 L437.80,365.72 L438.30,365.76 L438.80,365.79 L439.30,365.83 L439.80,365.87 L440.30,365.90 L440.80,365.94 L441.30,365.98 L441.80,366.01 L442.30,366.05 L442.80,366.09 L443.30,366.12 L443.80,366.16 L444.30,366.19 L444.80,366.23 L445.30,366.27 L445.80,366.30 L446.30,366.34 L446.80,366.38 L447.30,366.41 L447.80,366.45 L448.30,366.48 L448.80,366.52 L449.30,366.56 L449.80,366.59 L450.30,366.63 L450.80,366.66 L451.30,366.70 L451.80,366.73 L452.30,366.77 L452.80,366.81 L453.30,366.84 L453.80,366.88 L454.30,366.91 L454.80,366.95 L455.30,366.98 L455.80,367.02 L456.30,367.05 L456.80,367.09 L457.30,367.13 L457.80,367.16 L458.30,367.20 L458.80,367.23 L459.30,367.27 L459.80,367.30 L460.30,367.34 L460.80,367.37 L461.30,367.41 L461.80,367.44 L462.30,367.48 L462.80,367.51 L463.30,367.55 L463.80,367.58 L464.30,367.62 L464.80,367.65 L465.30,367.69 L465.80,367.72 L466.30,367.76 L466.80,367.79 L467.30,367.83 L467.80,367.86 L468.30,367.89 L468.80,367.93 L469.30,367.96 L469.80,368.00 L470.30,368.03 L470.80,368.07 L471.30,368.10 L471.80,368.14 L472.30,368.17 L472.80,368.20 L473.30,368.24 L473.80,368.27 L474.30,368.31 L474.80,368.34 L475.30,368.38 L475.80,368.41 L476.30,368.44 L476.80,368.48 L477.30,368.51 L477.80,368.55 L478.30,368.58 L478.80,368.62 L479.30,368.65 L479.80,368.68 L480.30,368.72 L480.80,368.75 L481.30,368.79 L481.80,368.82 L482.30,368.85 L482.80,368.89 L483.30,368.92 L483.80,368.95 L484.30,368.99 L484.80,369.02 L485.30,369.06 L485.80,369.09 L486.30,369.12 L486.80,369.16 L487.30,369.19 L487.80,369.22 L488.30,369.26 L488.80,369.29 L489.30,369.33 L489.80,369.36 L490.30,369.39 L490.80,369.43 L491.30,369.46 L491.80,369.49 L492.30,369.53 L492.80,369.56 L493.30,369.59 L493.80,369.63 L494.30,369.66 L494.80,369.69 L495.30,369.73 L495.80,369.76 L496.30,369.79 L496.80,369.83 L497.30,369.86 L497.80,369.89 L498.30,369.93 L498.80,369.96 L499.30,369.99 L499.80,370.03 L500.30,370.06 L500.80,370.09 L501.30,370.13 L501.80,370.16 L502.30,370.19 L502.80,370.23 L503.30,370.26 L503.80,370.29 L504.30,370.33 L504.80,370.36 L505.30,370.39 L505.80,370.42 L506.30,370.46 L506.80,370.49 L507.30,370.52 L507.80,370.56 L508.30,370.59 L508.80,370.62 L509.30,370.66 L509.80,370.69 L510.30,370.72 L510.80,370.75 L511.30,370.79 L511.80,370.82 L512.30,370.85 L512.80,370.89 L513.30,370.92 L513.80,370.95 L514.30,370.98 L514.80,371.02 L515.30,371.05 L515.80,371.08 L516.30,371.12 L516.80,371.15 L517.30,371.18 L517.80,371.21 L518.30,371.25 L518.80,371.28 L519.30,371.31 L519.80,371.35 L520.30,371.38 L520.80,371.41 L521.30,371.44 L521.80,371.48 L522.30,371.51 L522.80,371.54 L523.30,371.58 L523.80,371.61 L524.30,371.64 L524.80,371.67 L525.30,371.71 L525.80,371.74 L526.30,371.77 L526.80,371.80 L527.30,371.84 L527.80,371.87 L528.30,371.90 L528.80,371.94 L529.30,371.97 L529.80,372.00 L530.30,372.03 L530.80,372.07 L531.30,372.10 L531.80,372.13 L532.30,372.16 L532.80,372.20 L533.30,372.23 L533.80,372.26 L534.30,372.30 L534.80,372.33 L535.30,372.36 L535.80,372.39 L536.30,372.43 L536.80,372.46 L537.30,372.49 L537.80,372.52 L538.30,372.56 L538.80,372.59 L539.30,372.62 L539.80,372.66 L540.30,372.69 L540.80,372.72 L541.30,372.75 L541.80,372.79 L542.30,372.82 L542.80,372.85 L543.30,372.88 L543.80,372.92 L544.30,372.95 L544.80,372.98 L545.30,373.02 L545.80,373.05 L546.30,373.08 L546.80,373.11 L547.30,373.15 L547.80,373.18 L548.30,373.21 L548.80,373.24 L549.30,373.28 L549.80,373.31 L550.30,373.34 L550.80,373.38 L551.30,373.41 L551.80,373.44 L552.30,373.47 L552.80,373.51 L553.30,373.54 L553.80,373.57 L554.30,373.61 L554.80,373.64 L555.30,373.67 L555.80,373.71 L556.30,373.74 L556.80,373.77 L557.30,373.80 L557.80,373.84 L558.30,373.87 L558.80,373.90 L559.30,373.94 L559.80,373.97 L560.30,374.00 L560.80,374.04 L561.30,374.07 L561.80,374.10 L562.30,374.13 L562.80,374.17 L563.30,374.20 L563.80,374.23 L564.30,374.27 L564.80,374.30 L565.30,374.33 L565.80,374.37 L566.30,374.40 L566.80,374.43 L567.30,374.47 L567.80,374.50 L568.30,374.53 L568.80,374.57 L569.30,374.60 L569.80,374.63 L570.30,374.67 L570.80,374.70 L571.30,374.73 L571.80,374.77 L572.30,374.80 L572.80,374.83 L573.30,374.87 L573.80,374.90 L574.30,374.93 L574.80,374.97 L575.30,375.00 L575.80,375.03 L576.30,375.07 L576.80,375.10 L577.30,375.13 L577.80,375.17 L578.30,375.20 L578.80,375.23 L579.30,375.27 L579.70,375.30" fill="none" stroke="#000" stroke-width="3"/>
<path d="M97,65 L97,467 M96,466 L581,466" stroke="#000" stroke-width="2.2" fill="none"/>
<text x="89.1" y="469.75" font-size="9.5" font-weight="bold" text-anchor="end" fill="#000">0.0</text>
<text x="89.1" y="429.75" font-size="9.5" font-weight="bold" text-anchor="end" fill="#000">0.1</text>
<text x="89.1" y="389.75" font-size="9.5" font-weight="bold" text-anchor="end" fill="#000">0.2</text>
<text x="89.1" y="349.75" font-size="9.5" font-weight="bold" text-anchor="end" fill="#000">0.3</text>
<text x="89.1" y="309.75" font-size="9.5" font-weight="bold" text-anchor="end" fill="#000">0.4</text>
<text x="89.1" y="269.75" font-size="9.5" font-weight="bold" text-anchor="end" fill="#000">0.5</text>
<text x="89.1" y="229.75" font-size="9.5" font-weight="bold" text-anchor="end" fill="#000">0.6</text>
<text x="89.1" y="189.75" font-size="9.5" font-weight="bold" text-anchor="end" fill="#000">0.7</text>
<text x="89.1" y="149.75" font-size="9.5" font-weight="bold" text-anchor="end" fill="#000">0.8</text>
<text x="89.1" y="109.75" font-size="9.5" font-weight="bold" text-anchor="end" fill="#000">0.9</text>
<text x="89.1" y="69.75" font-size="9.5" font-weight="bold" text-anchor="end" fill="#000">1.0</text>
<path d="M91,466.0 L97,466.0 M91,426.0 L97,426.0 M91,386.0 L97,386.0 M91,346.0 L97,346.0 M91,306.0 L97,306.0 M91,266.0 L97,266.0 M91,226.0 L97,226.0 M91,186.0 L97,186.0 M91,146.0 L97,146.0 M91,106.0 L97,106.0 M91,66.0 L97,66.0" stroke="#000" stroke-width="2" fill="none"/>
<text x="97.00" y="483.1" font-size="9.5" font-weight="bold" text-anchor="middle" fill="#000">0</text>
<text x="129.20" y="483.1" font-size="9.5" font-weight="bold" text-anchor="middle" fill="#000">5</text>
<text x="161.40" y="483.1" font-size="9.5" font-weight="bold" text-anchor="middle" fill="#000">10</text>
<text x="193.60" y="483.1" font-size="9.5" font-weight="bold" text-anchor="middle" fill="#000">15</text>
<text x="225.80" y="483.1" font-size="9.5" font-weight="bold" text-anchor="middle" fill="#000">20</text>
<text x="258.00" y="483.1" font-size="9.5" font-weight="bold" text-anchor="middle" fill="#000">25</text>
<text x="290.20" y="483.1" font-size="9.5" font-weight="bold" text-anchor="middle" fill="#000">30</text>
<text x="322.40" y="483.1" font-size="9.5" font-weight="bold" text-anchor="middle" fill="#000">35</text>
<text x="354.60" y="483.1" font-size="9.5" font-weight="bold" text-anchor="middle" fill="#000">40</text>
<text x="386.80" y="483.1" font-size="9.5" font-weight="bold" text-anchor="middle" fill="#000">45</text>
<text x="419.00" y="483.1" font-size="9.5" font-weight="bold" text-anchor="middle" fill="#000">50</text>
<text x="451.20" y="483.1" font-size="9.5" font-weight="bold" text-anchor="middle" fill="#000">55</text>
<text x="483.40" y="483.1" font-size="9.5" font-weight="bold" text-anchor="middle" fill="#000">60</text>
<text x="515.60" y="483.1" font-size="9.5" font-weight="bold" text-anchor="middle" fill="#000">65</text>
<text x="547.80" y="483.1" font-size="9.5" font-weight="bold" text-anchor="middle" fill="#000">70</text>
<text x="580.00" y="483.1" font-size="9.5" font-weight="bold" text-anchor="middle" fill="#000">75</text>
<path d="M97.0,466 L97.0,472 M129.2,466 L129.2,472 M161.4,466 L161.4,472 M193.6,466 L193.6,472 M225.8,466 L225.8,472 M258.0,466 L258.0,472 M290.2,466 L290.2,472 M322.4,466 L322.4,472 M354.6,466 L354.6,472 M386.8,466 L386.8,472 M419.0,466 L419.0,472 M451.2,466 L451.2,472 M483.4,466 L483.4,472 M515.6,466 L515.6,472 M547.8,466 L547.8,472 M580.0,466 L580.0,472" stroke="#000" stroke-width="2" fill="none"/>
<text x="31.6" y="259.1" font-size="13.9" font-weight="bold" text-anchor="middle" fill="#000">Predicted</text>
<text x="31.4" y="276.6" font-size="13.55" font-weight="bold" text-anchor="middle" fill="#000">mortality</text>
<text x="260.2" y="513.5" font-size="14" font-weight="bold" fill="#000">End-tidal C<tspan dx="-0.4">O</tspan><tspan font-size="11.5" dy="2.9" dx="-0.3">2</tspan><tspan dy="-2.9" dx="-0.6"> in mmHg</tspan></text>
<path d="M523,92.3 L537,92.3" stroke="#000" stroke-width="3"/>
<path d="M523,110.2 L537.2,110.2" stroke="#000" stroke-width="1.5" stroke-dasharray="2.8 2.8"/>
<rect x="522.5" y="123.7" width="16.8" height="13.2" fill="#e7e7e7"/>
<text x="544.5" y="95.5" font-size="10.75" fill="#000">Predicted proportion mortality</text>
<text x="544.5" y="113.8" font-size="10.75" fill="#000">95% Confidence interval</text>
<text x="544.5" y="133.6" font-size="10.75" fill="#000">Proposed <tspan fill="#666" stroke="#666" stroke-width="0.35">Safe Zone</tspan></text>
</svg></body></html>
